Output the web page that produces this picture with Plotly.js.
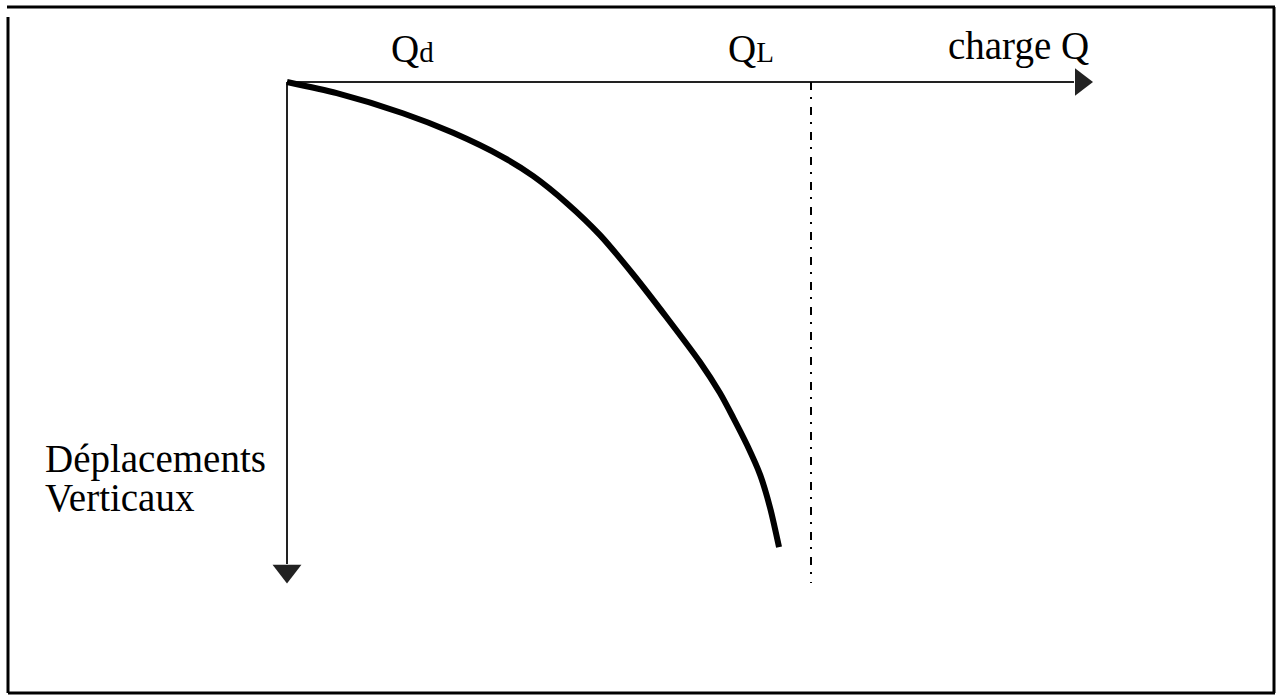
<!DOCTYPE html>
<html>
<head>
<meta charset="utf-8">
<script src="https://cdn.plot.ly/plotly-3.0.1.min.js"></script>
<style>html,body{margin:0;padding:0;background:#fff;}#chart{width:1280px;height:696px;}</style>
</head>
<body>
<div id="chart"></div>
<script>
// Load (charge Q) and vertical displacement of the curve (arbitrary units, QL = 100)
const chargeQ = [0, 9.5, 22.1, 31.7, 41.2, 47.0, 53.4, 59.7, 66.0, 72.5, 78.8, 82.6, 85.1, 87.8, 90.3, 92.2, 93.9];
const deplacement = [0, 2.4, 6.7, 10.9, 16.1, 20.2, 26.0, 32.8, 41.2, 50.6, 60.1, 66.7, 71.9, 77.9, 84.3, 91.4, 99.8];
const QL = 100;
const axisLabels = ["Q<span style='font-size:29px'>d</span>", "Q<span style='font-size:29px'>L</span>", "charge Q"];
const yLabel = ["Déplacements", "Verticaux"];

// pixel helpers (layout only)
const OX = 287, OY = 82, SX = 5.24, SY = 4.66, W = 1280, H = 696;
const X = px => (px - OX) / SX;
const Y = py => (py - OY) / SY;
const PX = px => px / W, PY = py => 1 - py / H;

const font = {family: "Liberation Serif, Times New Roman, serif", size: 39, color: "#000"};
const axisCol = "#222";

const traces = [
  // axes
  {x: [0, X(1074)], y: [0, 0], mode: "lines", line: {color: axisCol, width: 2}, hoverinfo: "skip"},
  {x: [0, 0], y: [0, Y(564)], mode: "lines", line: {color: axisCol, width: 2}, hoverinfo: "skip"},
  {x: [X(1081)], y: [0], mode: "markers", marker: {symbol: "triangle-right", size: 24, color: axisCol}, hoverinfo: "skip"},
  {x: [0], y: [Y(571)], mode: "markers", marker: {symbol: "triangle-down", size: 25, color: axisCol}, hoverinfo: "skip"},
  // curve
  {x: chargeQ, y: deplacement, mode: "lines", line: {color: "#000", width: 6, shape: "spline", smoothing: 0.7}, hoverinfo: "skip"},
  // limit load line
  {x: [QL, QL], y: [0, Y(583)], mode: "lines", line: {color: "#000", width: 2, dash: "8px,7px,2px,8px"}, hoverinfo: "skip"}
];

const border = {color: "#000", width: 3};
const layout = {
  width: W, height: H,
  margin: {l: 0, r: 0, t: 0, b: 0},
  paper_bgcolor: "#fff", plot_bgcolor: "#fff",
  showlegend: false,
  xaxis: {range: [X(0), X(W)], visible: false, fixedrange: true},
  yaxis: {range: [Y(H), Y(0)], visible: false, fixedrange: true},
  shapes: [
    {type: "line", xref: "paper", yref: "paper", x0: PX(7), x1: PX(1275), y0: PY(7), y1: PY(7), line: border},
    {type: "line", xref: "paper", yref: "paper", x0: PX(8), x1: PX(8), y0: PY(17), y1: PY(693), line: border},
    {type: "line", xref: "paper", yref: "paper", x0: PX(1274), x1: PX(1274), y0: PY(7), y1: PY(693), line: border},
    {type: "line", xref: "paper", yref: "paper", x0: PX(8), x1: PX(1275), y0: PY(693), y1: PY(693), line: border}
  ],
  annotations: [
    {x: X(389), y: Y(48), xref: "x", yref: "y", text: axisLabels[0], showarrow: false, xanchor: "left", yanchor: "middle", font: font},
    {x: X(726), y: Y(48), xref: "x", yref: "y", text: axisLabels[1], showarrow: false, xanchor: "left", yanchor: "middle", font: font},
    {x: X(946), y: Y(46), xref: "x", yref: "y", text: axisLabels[2], showarrow: false, xanchor: "left", yanchor: "middle", font: font},
    {x: X(43), y: Y(459), xref: "x", yref: "y", text: yLabel[0], showarrow: false, xanchor: "left", yanchor: "middle", font: font},
    {x: X(43), y: Y(497), xref: "x", yref: "y", text: yLabel[1], showarrow: false, xanchor: "left", yanchor: "middle", font: font}
  ]
};

Plotly.newPlot("chart", traces, layout, {displayModeBar: false, staticPlot: true});
</script>
</body>
</html>
